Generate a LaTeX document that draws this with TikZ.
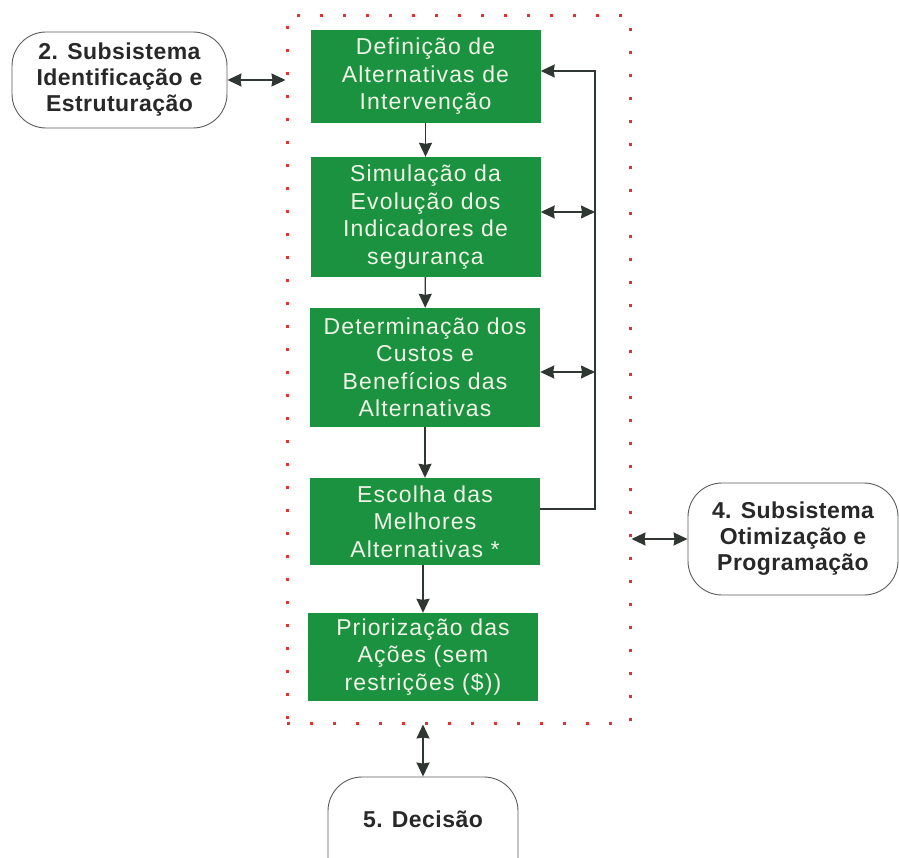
\documentclass[tikz,border=0pt]{standalone}
\usepackage{fontspec}
\setmainfont{Liberation Sans}
\newfontfamily\stagefont[LetterSpace=5]{Liberation Sans}
\newfontfamily\subfont[LetterSpace=2]{Liberation Sans}
\usetikzlibrary{arrows.meta}
\definecolor{boxgreen}{RGB}{26,146,64}
\definecolor{boxtext}{RGB}{242,244,230}
\definecolor{linegray}{RGB}{48,54,50}
\definecolor{dotred}{RGB}{226,50,50}
\definecolor{subtext}{RGB}{40,40,40}

\begin{document}
\begin{tikzpicture}[x=1pt,y=-1pt,
  stage/.style={fill=boxgreen, text=boxtext, align=center,
    font=\stagefont\fontsize{23}{27.5}\selectfont, minimum width=230pt, inner sep=0pt},
  subsys/.style={draw=linegray!80, line width=0.9pt, rounded corners=34pt,
    fill=white, text=subtext, align=center, inner sep=0pt,
    font=\subfont\bfseries\fontsize{23}{26}\selectfont},
  tip/.tip={Stealth[length=14pt,width=13pt,inset=1pt]},
  link/.style={draw=linegray, line width=1.4pt},
  onearrow/.style={link, -tip},
  twoarrow/.style={link, tip-tip},
  frame/.style={draw=dotred, line width=3pt, dash pattern=on 3pt off 20pt,
    minimum width=343pt, minimum height=707pt, inner sep=0pt}
]
\useasboundingbox (0,0) rectangle (899,858);

% dotted red boundary of the evaluation subsystem
\node[frame] (frame) at (458.5,369.5) {};

% process steps
\node[stage, minimum height=93pt]  (s1) at (425.5,76.5)
  {Definição de\\Alternativas de\\Intervenção};
\node[stage, minimum height=120pt] (s2) at (425.5,217)
  {Simulação da\\Evolução dos\\Indicadores de\\segurança};
\node[stage, minimum height=119pt] (s3) at (425,367.5)
  {Determinação dos\\Custos e\\Benefícios das\\Alternativas};
\node[stage, minimum height=87pt]  (s4) at (425,521.5)
  {Escolha das\\Melhores\\Alternativas *};
\node[stage, minimum height=88pt]  (s5) at (423,657)
  {Priorização das\\Ações (sem\\restrições (\$))};

% neighbouring subsystems
\node[subsys, minimum width=215pt, minimum height=96pt] (sub2) at (119.5,80)
  {2. Subsistema\\Identificação e\\Estruturação};
\node[subsys, minimum width=210pt, minimum height=112pt] (sub4) at (793,539)
  {4. Subsistema\\Otimização e\\Programação};
\node[subsys, minimum width=190pt, minimum height=120pt] (dec) at (423,837)
  {\raisebox{36pt}{5. Decisão}};

% main sequence
\draw[onearrow] (s1) -- (s2);
\draw[onearrow] (s2) -- (s3);
\draw[onearrow] (s3) -- (s4);
\draw[onearrow] (s4.south -| s5) -- (s5);

% feedback rail on the right
\coordinate (r1) at (595,71);
\coordinate (r2) at (595,212);
\coordinate (r3) at (595,372);
\coordinate (r4) at (595,509);
\draw[onearrow] (s4.east |- r4) -- (r4) -- (r1) -- (s1.east |- r1);
\draw[twoarrow] (s2.east |- r2) -- (r2);
\draw[twoarrow] (s3.east |- r3) -- (r3);

% exchanges with the other subsystems
\draw[twoarrow] (sub2.east) -- (sub2.east -| frame.west);
\draw[twoarrow] (frame.east |- sub4.west) -- (sub4.west);
\draw[twoarrow] (dec.north |- frame.south) -- (dec.north);
\end{tikzpicture}
\end{document}
